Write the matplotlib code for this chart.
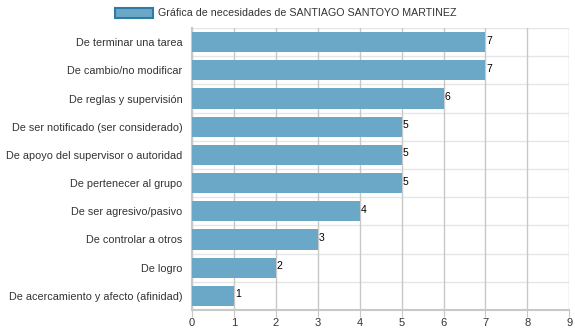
import matplotlib
matplotlib.use('Agg')
import matplotlib.pyplot as plt
from matplotlib.patches import Patch

plt.rcParams['font.family'] = ['Liberation Sans', 'DejaVu Sans']

categorias = [
	"De terminar una tarea",
	"De cambio/no modificar",
	"De reglas y supervisión",
	"De ser notificado (ser considerado)",
	"De apoyo del supervisor o autoridad",
	"De pertenecer al grupo",
	"De ser agresivo/pasivo",
	"De controlar a otros",
	"De logro",
	"De acercamiento y afecto (afinidad)",
]
valores = [7, 7, 6, 5, 5, 5, 4, 3, 2, 1]
titulo = "Gráfica de necesidades de SANTIAGO SANTOYO MARTINEZ"

BAR_COLOR = "#6ba7c6"
EDGE_COLOR = "#2f7ba3"

fig = plt.figure(figsize=(5.75, 3.34), dpi=100)
ax = fig.add_axes([0.334, 0.072, 0.656, 0.844])

pos = list(range(len(categorias)))
bars = ax.barh(pos, valores, height=0.72, color=BAR_COLOR, zorder=3)
for p, v in zip(pos, valores):
	ax.text(v + 0.02, p - 0.05, str(v), fontsize=7.5, color="black", va="center", ha="left", zorder=4)

ax.set_xlim(0, 9)
ax.set_ylim(len(categorias) - 0.5, -0.5)
ax.set_xticks(range(0, 10))
ax.set_yticks(pos)
ax.set_yticklabels(categorias)

# vertical grid at each unit, horizontal separators between categories
ax.grid(axis="x", color="#c8c8c8", linewidth=1, zorder=1)
for b in range(len(categorias) + 1):
	ax.axhline(b - 0.5, color="#e6e6e6", linewidth=1, zorder=0)

for side in ["top", "right"]:
	ax.spines[side].set_visible(False)
ax.spines["left"].set_color("#c8c8c8")
ax.spines["bottom"].set_color("#c8c8c8")
ax.spines["left"].set_linewidth(1.5)
ax.spines["bottom"].set_linewidth(1.5)

ax.tick_params(axis="y", length=0, labelsize=7.8, labelcolor="#333333", pad=7)
ax.tick_params(axis="x", length=5, color="#c8c8c8", labelsize=8, labelcolor="#333333", pad=1)

fig.legend(handles=[Patch(facecolor=BAR_COLOR, edgecolor=EDGE_COLOR, linewidth=1.5, label=titulo)],
	loc="upper center", bbox_to_anchor=(0.497, 1.005), frameon=False, fontsize=7.7,
	handlelength=3.6, handleheight=1.0, handletextpad=0.5, labelcolor="#333333")

fig.savefig("out.png", dpi=100)
